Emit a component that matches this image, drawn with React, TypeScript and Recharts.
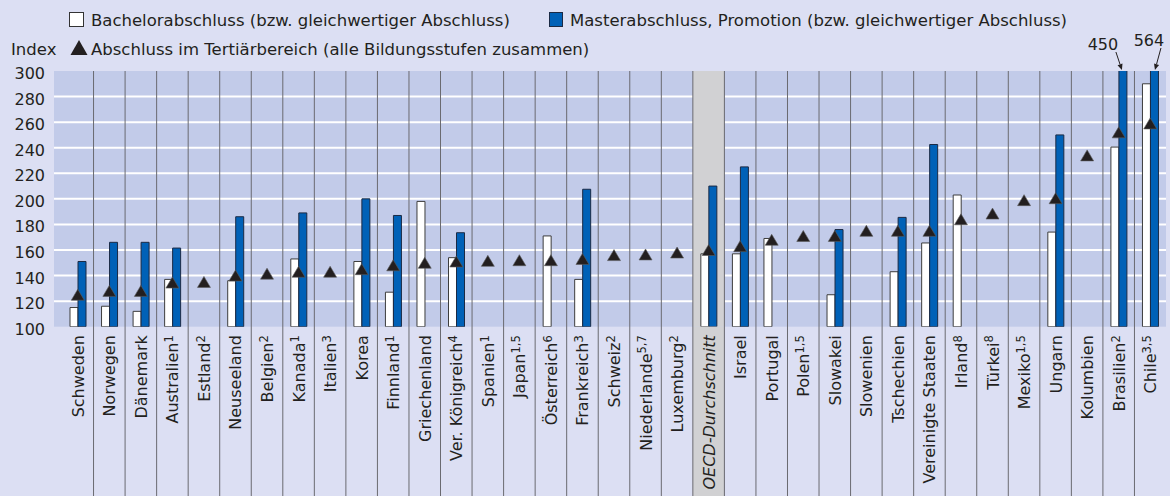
import { ComposedChart, Bar, Line, XAxis, YAxis, CartesianGrid, ReferenceArea } from "recharts";

const countries = [
  "Schweden", "Norwegen", "Dänemark", "Australien", "Estland", "Neuseeland", "Belgien", "Kanada", "Italien",
  "Korea", "Finnland", "Griechenland", "Ver. Königreich", "Spanien", "Japan", "Österreich", "Frankreich",
  "Schweiz", "Niederlande", "Luxemburg", "OECD-Durchschnitt", "Israel", "Portugal", "Polen", "Slowakei",
  "Slowenien", "Tschechien", "Vereinigte Staaten", "Irland", "Türkei", "Mexiko", "Ungarn", "Kolumbien",
  "Brasilien", "Chile",
];
const notes = [
  "", "", "", "1", "2", "", "2", "1", "3", "", "1", "", "4", "1", "1,5", "6", "3", "2", "5,7", "2", "", "", "",
  "1,5", "", "", "", "", "8", "8", "1,5", "", "", "2", "3,5",
];
const bachelor = [
  115, 116, 112, 137, null, 136, null, 153, null, 151, 127, 198, 154, null, null, 171, 137, null, null, null,
  157, 157, 169, null, 125, null, 143, 165.5, 203, null, null, 174, null, 240.5, 290,
];
const master = [
  151, 166, 166, 161.5, null, 186, null, 189, null, 200, 187, null, 173.5, null, null, null, 207.5, null, null,
  null, 210, 225, null, null, 176, null, 185.5, 242.5, null, null, null, 250, null, 450, 564,
];
const tertiary = [
  125, 128, 128, 134.5, 135, 140, 141.5, 143, 143, 145, 148, 150, 151, 151.5, 152, 152, 153, 156, 156.5, 158,
  160, 163, 168, 171, 171, 175, 175, 175, 184, 188.5, 199, 200.5, 234, 252, 259,
];
const yTicks = [100, 120, 140, 160, 180, 200, 220, 240, 260, 280, 300];
const averageName = "OECD-Durchschnitt";

const W = 1170;
const H = 496;
const MARGIN = { top: 71, right: 4, bottom: 0, left: 0 };
const Y_W = 54;
const X_H = 169.3;
const PAD_LEFT = 8;
const PLOT_TOP = MARGIN.top;
const PLOT_BOTTOM = H - X_H;
const BAND = (W - MARGIN.right - Y_W - PAD_LEFT) / countries.length;

const FONT = "DejaVu Sans";
const INK = "#231f20";
const BG = "#dcdff3";
const PLOT_BG = "#c2cbe9";
const GREY = "#d1d1d3";
const BLUE = "#0061b7";
const SEP = "#6a6a70";

// where the value labels for the clipped bars go (relative to bar centre)
const overflowPos: Record<string, { dx: number; base: number; x1: number; y1: number; x2: number }> = {
  Brasilien: { dx: -20, base: 50, x1: -7, y1: 52, x2: -1 },
  Chile: { dx: -5.5, base: 45.7, x1: 6.5, y1: 48, x2: 0.5 },
};

const data = countries.map((c, i) => ({
  country: c,
  bachelor: bachelor[i],
  master: master[i],
  tertiary: tertiary[i],
}));

function CountryTick(props: any) {
  const { x, payload } = props;
  const i = countries.indexOf(payload.value);
  const half = BAND / 2;
  const isAvg = payload.value === averageName;
  return (
    <g>
      {isAvg && <rect x={x - half} y={PLOT_BOTTOM} width={BAND} height={H - PLOT_BOTTOM} fill={GREY} />}
      {i > 0 && <line x1={x - half} x2={x - half} y1={PLOT_TOP} y2={H} stroke={SEP} strokeWidth={1} />}
      <text
        transform={`translate(${x + 6},${PLOT_BOTTOM + 8.5}) rotate(-90)`}
        textAnchor="end"
        fontFamily={FONT}
        fontSize={16}
        fontStyle={isAvg ? "italic" : "normal"}
        fill={INK}
      >
        {payload.value}
        {notes[i] && (
          <tspan dy="-0.45em" fontSize={11.5}>
            {notes[i]}
          </tspan>
        )}
      </text>
    </g>
  );
}

function ValueTick(props: any) {
  const { x, y, payload } = props;
  return (
    <text x={x} y={y + 8} textAnchor="end" fontFamily={FONT} fontSize={16} fill={INK}>
      {payload.value}
    </text>
  );
}

function TriangleDot(props: any) {
  const { cx, cy, index } = props;
  if (cx == null || cy == null) return <g key={index} />;
  return (
    <polygon
      key={index}
      points={`${cx},${cy - 5.5} ${cx + 6.5},${cy + 5.5} ${cx - 6.5},${cy + 5.5}`}
      fill={INK}
      stroke="#5c5c5c"
      strokeWidth={0.6}
    />
  );
}

function OverflowLabel(props: any) {
  const { x, width, value } = props;
  if (value == null || value <= 300) return null;
  const i = master.indexOf(value);
  const pos = overflowPos[countries[i]];
  if (!pos) return null;
  const cx = x + width / 2;
  const tx = cx + pos.x2;
  const ty = PLOT_TOP - 1;
  const ang = Math.atan2(ty - pos.y1, tx - (cx + pos.x1));
  const hl = 6;
  const hw = 2.6;
  const bx = tx - hl * Math.cos(ang);
  const by = ty - hl * Math.sin(ang);
  const px = -Math.sin(ang) * hw;
  const py = Math.cos(ang) * hw;
  return (
    <g>
      <text x={cx + pos.dx} y={pos.base} textAnchor="middle" fontFamily={FONT} fontSize={16} fill={INK}>
        {value}
      </text>
      <line x1={cx + pos.x1} y1={pos.y1} x2={bx} y2={by} stroke={INK} strokeWidth={1} />
      <polygon points={`${tx},${ty} ${bx + px},${by + py} ${bx - px},${by - py}`} fill={INK} />
    </g>
  );
}

export default function App() {
  return (
    <div style={{ position: "relative", width: W, height: H, background: BG, overflow: "hidden" }}>
      <style>{"body{margin:0}"}</style>
      <ComposedChart width={W} height={H} data={data} margin={MARGIN} barGap={0} barSize={8}>
        <CartesianGrid
          fill={PLOT_BG}
          fillOpacity={1}
          vertical={false}
          stroke="#ffffff"
          strokeWidth={2}
          horizontalValues={yTicks.slice(1, -1)}
        />
        <ReferenceArea x1={averageName} x2={averageName} y1={100} y2={300} fill={GREY} fillOpacity={1} stroke="none" />
        <XAxis
          dataKey="country"
          type="category"
          interval={0}
          height={X_H}
          padding={{ left: PAD_LEFT, right: 0 }}
          tick={<CountryTick />}
          tickLine={false}
          axisLine={false}
        />
        <YAxis
          type="number"
          domain={[100, 300]}
          ticks={yTicks}
          allowDataOverflow
          width={Y_W}
          tick={<ValueTick />}
          tickLine={false}
          axisLine={false}
          tickSize={0}
          tickMargin={9}
        />
        <Bar dataKey="bachelor" fill="#ffffff" stroke="#3d3d3d" strokeWidth={1} isAnimationActive={false} />
        <Bar
          dataKey="master"
          fill={BLUE}
          stroke="#1b2a44"
          strokeWidth={1}
          isAnimationActive={false}
          label={<OverflowLabel />}
        />
        <Line
          dataKey="tertiary"
          stroke="none"
          dot={(p: any) => <TriangleDot key={p.index} {...p} />}
          activeDot={false}
          isAnimationActive={false}
        />
      </ComposedChart>
      <svg width={W} height={70} style={{ position: "absolute", left: 0, top: 0, pointerEvents: "none" }}>
        <g fontFamily={FONT} fontSize={16.5} fill={INK}>
          <rect x={69.5} y={12.5} width={14} height={14} fill="#ffffff" stroke="#333" strokeWidth={1} />
          <text x={91} y={26}>Bachelorabschluss (bzw. gleichwertiger Abschluss)</text>
          <rect x={549.5} y={12.5} width={13} height={14} fill={BLUE} stroke="#1b2a44" strokeWidth={1} />
          <text x={570} y={26}>Masterabschluss, Promotion (bzw. gleichwertiger Abschluss)</text>
          <text x={11} y={55}>Index</text>
          <polygon points="79,40 87.5,55 70.5,55" fill={INK} />
          <text x={91} y={55}>Abschluss im Tertiärbereich (alle Bildungsstufen zusammen)</text>
        </g>
      </svg>
    </div>
  );
}
